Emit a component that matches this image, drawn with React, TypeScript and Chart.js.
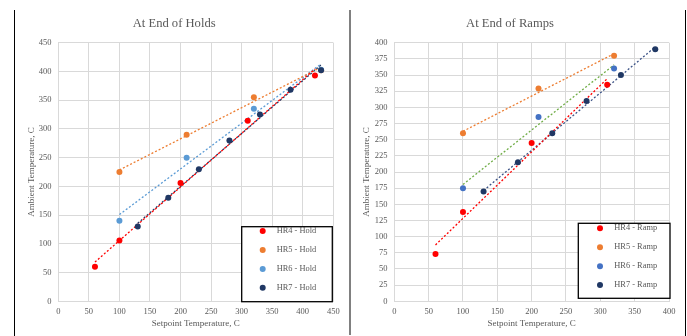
import React, { useEffect, useRef } from 'react';
import { Chart, registerables } from 'chart.js';
Chart.register(...registerables);

const FONT = "'Liberation Serif', 'Times New Roman', serif";
const TEXT = '#595959';
const GRID = '#d9d9d9';

// ---- At End of Holds ----
const holdTitle = 'At End of Holds';
const holdXTicksMax = 450;
const holdYTicksMax = 450;
const holdYStep = 50;
const holdLabels = ['HR4 - Hold', 'HR5 - Hold', 'HR6 - Hold', 'HR7 - Hold'];
const hr4HoldX = [60, 100, 200, 310, 420];
const hr4HoldY = [60, 106, 206, 314, 393];
const hr5HoldX = [100, 210, 320, 430];
const hr5HoldY = [225, 290, 355, 402];
const hr6HoldX = [100, 210, 320, 430];
const hr6HoldY = [140, 250, 335, 403];
const hr7HoldX = [130, 180, 230, 280, 330, 380, 430];
const hr7HoldY = [130, 180, 230, 280, 325, 368, 402];

// ---- At End of Ramps ----
const rampTitle = 'At End of Ramps';
const rampXTicksMax = 400;
const rampYTicksMax = 400;
const rampYStep = 25;
const rampLabels = ['HR4 - Ramp', 'HR5 - Ramp', 'HR6 - Ramp', 'HR7 - Ramp'];
const hr4RampX = [60, 100, 200, 310];
const hr4RampY = [73, 138, 245, 335];
const hr5RampX = [100, 210, 320];
const hr5RampY = [260, 329, 380];
const hr6RampX = [100, 210, 320];
const hr6RampY = [175, 285, 360];
const hr7RampX = [130, 180, 230, 280, 330, 380];
const hr7RampY = [170, 215, 260, 310, 350, 390];

const xTitle = 'Setpoint Temperature, C';
const yTitle = 'Ambient Temperature, C';

type Series = { label: string; xs: number[]; ys: number[]; color: string; trend: string };

function trend(xs: number[], ys: number[]) {
  const n = xs.length;
  const mx = xs.reduce((a, b) => a + b, 0) / n;
  const my = ys.reduce((a, b) => a + b, 0) / n;
  let sxx = 0, sxy = 0;
  for (let i = 0; i < n; i++) {
    sxx += (xs[i] - mx) * (xs[i] - mx);
    sxy += (xs[i] - mx) * (ys[i] - my);
  }
  const slope = sxy / sxx;
  const x0 = Math.min(...xs), x1 = Math.max(...xs);
  return [
    { x: x0, y: my + slope * (x0 - mx) },
    { x: x1, y: my + slope * (x1 - mx) },
  ];
}

const boxLegend = {
  id: 'boxLegend',
  afterDraw(chart: any, _args: any, opts: any) {
    const { ctx, chartArea } = chart;
    const right = chartArea.right + opts.dx;
    const bottom = chartArea.bottom + opts.dy;
    const left = right - opts.width;
    const top = bottom - opts.height;
    ctx.save();
    ctx.fillStyle = '#ffffff';
    ctx.fillRect(left, top, opts.width, opts.height);
    ctx.strokeStyle = '#000000';
    ctx.lineWidth = 1.3;
    ctx.strokeRect(left, top, opts.width, opts.height);
    opts.items.forEach((it: any, i: number) => {
      const y = top + opts.rows[i];
      ctx.beginPath();
      ctx.arc(left + opts.markerX, y, 3, 0, Math.PI * 2);
      ctx.fillStyle = it.color;
      ctx.fill();
      ctx.fillStyle = TEXT;
      ctx.font = `8.4px ${FONT}`;
      ctx.textBaseline = 'middle';
      ctx.textAlign = 'left';
      ctx.fillText(it.label, left + opts.textX, y);
    });
    ctx.restore();
  },
};

function Panel(props: {
  series: Series[];
  title: string;
  xMax: number;
  yMax: number;
  yStep: number;
  left: number;
  padRight: number;
  yTitlePad: number;
  legend: any;
}) {
  const ref = useRef<HTMLCanvasElement>(null);
  useEffect(() => {
    const { series } = props;
    const datasets: any[] = [];
    series.forEach((s, i) => {
      datasets.push({
        label: s.label,
        data: s.xs.map((x, j) => ({ x, y: s.ys[j] })),
        backgroundColor: s.color,
        borderColor: s.color,
        pointRadius: 3,
        pointBorderWidth: 0,
        pointHoverRadius: 3,
        order: series.length - i,
      });
    });
    series.forEach((s, i) => {
      datasets.push({
        label: s.label + ' trend',
        data: trend(s.xs, s.ys),
        showLine: true,
        borderColor: s.trend,
        borderWidth: 1.3,
        borderDash: [2, 2],
        pointRadius: 0,
        fill: false,
        order: 20 + i,
      });
    });
    const tickFont = { family: FONT, size: 8.5 };
    const titleFont = { family: FONT, size: 9 };
    const chart = new Chart(ref.current as HTMLCanvasElement, {
      type: 'scatter',
      data: { datasets },
      plugins: [boxLegend as any],
      options: {
        animation: false,
        responsive: false,
        layout: { padding: { left: 0, right: props.padRight, top: 0, bottom: 0 } },
        plugins: {
          legend: { display: false },
          tooltip: { enabled: false },
          title: {
            display: true,
            text: props.title,
            color: TEXT,
            font: { family: FONT, size: 12.6, weight: 'normal' as any },
            padding: { top: 6.4, bottom: 11.2 },
          },
          boxLegend: {
            ...props.legend,
            items: series.map((s) => ({ label: s.label, color: s.color })),
          },
        } as any,
        scales: {
          x: {
            type: 'linear',
            min: 0,
            max: props.xMax,
            ticks: { stepSize: 50, color: TEXT, font: tickFont, padding: 5, maxRotation: 0 },
            grid: { color: GRID, drawTicks: false },
            border: { color: GRID },
            title: { display: true, text: xTitle, color: TEXT, font: titleFont, padding: { top: 0, bottom: 6.6 } },
            afterFit: (s: any) => { s.height = 34.7; },
          },
          y: {
            type: 'linear',
            min: 0,
            max: props.yMax,
            ticks: { stepSize: props.yStep, color: TEXT, font: tickFont, padding: 6.8 },
            grid: { color: GRID, drawTicks: false },
            border: { color: GRID },
            title: { display: true, text: yTitle, color: TEXT, font: titleFont, padding: { top: props.yTitlePad, bottom: 0 } },
            afterFit: (s: any) => { s.width = 43.3; },
          },
        },
      } as any,
    });
    return () => chart.destroy();
  }, []);
  return (
    <div style={{ position: 'absolute', left: props.left, top: 10, width: 334, height: 326 }}>
      <canvas ref={ref} width={334} height={326} style={{ width: 334, height: 326, display: 'block' }} />
    </div>
  );
}

const holdSeries: Series[] = [
  { label: holdLabels[0], xs: hr4HoldX, ys: hr4HoldY, color: '#ff0000', trend: '#ff0000' },
  { label: holdLabels[1], xs: hr5HoldX, ys: hr5HoldY, color: '#ed7d31', trend: '#ed7d31' },
  { label: holdLabels[2], xs: hr6HoldX, ys: hr6HoldY, color: '#5b9bd5', trend: '#5b9bd5' },
  { label: holdLabels[3], xs: hr7HoldX, ys: hr7HoldY, color: '#203864', trend: '#203864' },
];

const rampSeries: Series[] = [
  { label: rampLabels[0], xs: hr4RampX, ys: hr4RampY, color: '#ff0000', trend: '#ff0000' },
  { label: rampLabels[1], xs: hr5RampX, ys: hr5RampY, color: '#ed7d31', trend: '#ed7d31' },
  { label: rampLabels[2], xs: hr6RampX, ys: hr6RampY, color: '#4472c4', trend: '#70ad47' },
  { label: rampLabels[3], xs: hr7RampX, ys: hr7RampY, color: '#203864', trend: '#3b5286' },
];

export default function App() {
  return (
    <div style={{ position: 'relative', width: 687, height: 336 }}>
      <div style={{ position: 'fixed', left: 0, top: 0, width: 687, height: 336, background: '#fff' }}>
        <div style={{ position: 'absolute', left: 14, top: 10, width: 1, height: 326, background: '#000' }} />
        <div style={{ position: 'absolute', left: 348.5, top: 10, width: 2, height: 325, background: '#808080' }} />
        <div style={{ position: 'absolute', left: 685, top: 10, width: 1, height: 326, background: '#000' }} />
        <Panel
          series={holdSeries}
          title={holdTitle}
          xMax={holdXTicksMax}
          yMax={holdYTicksMax}
          yStep={holdYStep}
          left={15}
          padRight={15.7}
          yTitlePad={11.3}
          legend={{ dx: -1, dy: 0.4, width: 90.6, height: 75, markerX: 21, textX: 35, rows: [4.3, 23.3, 42.3, 61] }}
        />
        <Panel
          series={rampSeries}
          title={rampTitle}
          xMax={rampXTicksMax}
          yMax={rampYTicksMax}
          yStep={rampYStep}
          left={351}
          padRight={16}
          yTitlePad={10.3}
          legend={{ dx: 1, dy: -3, width: 91.7, height: 75, markerX: 21.7, textX: 36, rows: [5, 24, 43, 61.7] }}
        />
      </div>
    </div>
  );
}
